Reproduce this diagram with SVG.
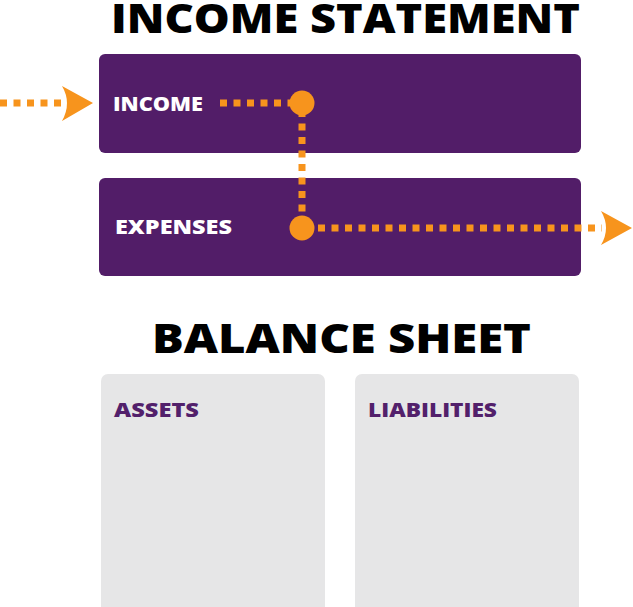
<svg xmlns="http://www.w3.org/2000/svg" width="633" height="607" viewBox="0 0 633 607">
<defs>
<style>
.title{font-family:"Open Sans","Liberation Sans",sans-serif;font-weight:800;font-size:41px;fill:#000}
.lbl{font-family:"Open Sans","Liberation Sans",sans-serif;font-weight:800;font-size:19px}
.w{fill:#fff}
.p{fill:#52206B}
.pbox{fill:#521D68}
.gbox{fill:#E6E6E7}
.dot{fill:none;stroke:#F7941D;stroke-width:7;stroke-dasharray:7 6.5}
.orange{fill:#F7941D}
</style>
</defs>
<rect width="633" height="607" fill="#fff"/>
<text class="title" x="111" y="33" textLength="469" lengthAdjust="spacingAndGlyphs">INCOME STATEMENT</text>
<text class="title" x="152" y="353" textLength="379" lengthAdjust="spacingAndGlyphs">BALANCE SHEET</text>
<g id="income">
<rect class="pbox" x="99" y="54" width="482" height="99" rx="6"/>
<text class="lbl w" x="113" y="111" textLength="90" lengthAdjust="spacingAndGlyphs">INCOME</text>
</g>
<g id="expenses">
<rect class="pbox" x="99" y="178" width="482" height="98" rx="6"/>
<text class="lbl w" x="115" y="234" textLength="117" lengthAdjust="spacingAndGlyphs">EXPENSES</text>
</g>
<g id="assets">
<rect class="gbox" x="101" y="374" width="224" height="240" rx="7"/>
<text class="lbl p" x="114" y="417" textLength="85" lengthAdjust="spacingAndGlyphs">ASSETS</text>
</g>
<g id="liabilities">
<rect class="gbox" x="355" y="374" width="224" height="240" rx="7"/>
<text class="lbl p" x="368" y="417" textLength="129" lengthAdjust="spacingAndGlyphs">LIABILITIES</text>
</g>
<g id="connectors">
<path class="dot" d="M0 103 H64"/>
<path class="orange" d="M93 103 L62 86 Q72 103 62 121 Z"/>
<path class="dot" d="M220 103 H296"/>
<path class="dot" d="M302 110 V222"/>
<path class="dot" d="M318 228 H602"/>
<path class="orange" d="M632 228 L601 211 Q611 228 601 245 Z"/>
<circle class="orange" cx="302" cy="103" r="12.5"/>
<circle class="orange" cx="302" cy="228" r="12.5"/>
</g>
</svg>
